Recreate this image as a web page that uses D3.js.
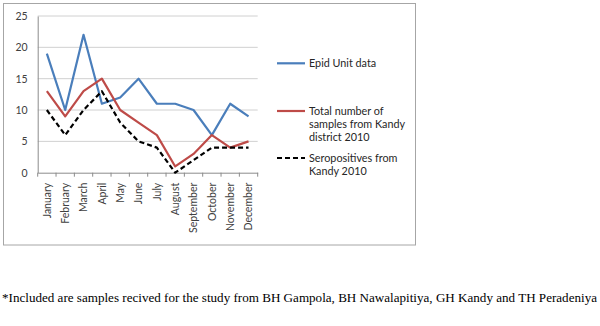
<!DOCTYPE html>
<html>
<head>
<meta charset="utf-8">
<script src="https://cdn.jsdelivr.net/npm/d3@7"></script>
<style>
  body { margin: 0; background: #fff; }
</style>
</head>
<body>
<div id="container"></div>
<script>
/**
 * DATA
 * */
const months = ["January", "February", "March", "April", "May", "June", "July",
  "August", "September", "October", "November", "December"];
const epidUnit = [19, 10, 22, 11, 12, 15, 11, 11, 10, 6, 11, 9];
const totalSamples = [13, 9, 13, 15, 10, 8, 6, 1, 3, 6, 4, 5];
const seropositives = [10, 6, 10, 13, 8, 5, 4, 0, 2, 4, 4, 4];
const yTicks = [0, 5, 10, 15, 20, 25];

const series = [
  { name: ["Epid Unit data"], values: epidUnit, color: "#4a7ebb", dash: null },
  { name: ["Total number of", "samples from Kandy", "district 2010"], values: totalSamples, color: "#be4b48", dash: null },
  { name: ["Seropositives from", "Kandy 2010"], values: seropositives, color: "#000", dash: "5,3" }
];

const width = 600, height = 326;
const plot = { left: 37.7, right: 257.7, top: 16, bottom: 172.7 };

const svg = d3.select("#container").append("svg")
  .attr("width", width)
  .attr("height", height);

// chart frame
svg.append("rect")
  .attr("x", 3.5).attr("y", 3.5)
  .attr("width", 412).attr("height", 241.5)
  .attr("fill", "none")
  .attr("stroke", "#a6a6a6");

const x = d3.scaleBand().domain(months).range([plot.left, plot.right]);
const y = d3.scaleLinear().domain([0, 25]).range([plot.bottom, plot.top]);

// gridlines
svg.append("g")
  .selectAll("line")
  .data(yTicks.slice(1))
  .join("line")
  .attr("x1", plot.left).attr("x2", plot.right)
  .attr("y1", d => y(d)).attr("y2", d => y(d))
  .attr("stroke", "#d0d0d0");

// y axis
const yAxis = svg.append("g")
  .attr("transform", `translate(${plot.left},0)`)
  .call(d3.axisLeft(y).tickValues(yTicks).tickSize(0).tickPadding(10));
yAxis.select(".domain").attr("stroke", "#8c8c8c");
yAxis.selectAll("text")
  .attr("font-family", "Lato, 'Open Sans', sans-serif")
  .attr("font-size", 10.5)
  .attr("fill", "#404040");

// x axis
const xAxis = svg.append("g")
  .attr("transform", `translate(0,${plot.bottom})`)
  .call(d3.axisBottom(x).tickSize(0));
xAxis.select(".domain").attr("stroke", "#8c8c8c");
xAxis.selectAll(".tick line").remove();
xAxis.selectAll("text")
  .attr("font-family", "Lato, 'Open Sans', sans-serif")
  .attr("font-size", 10.5)
  .attr("fill", "#404040")
  .attr("transform", "rotate(-90)")
  .attr("text-anchor", "end")
  .attr("y", 0)
  .attr("x", -10)
  .attr("dy", "0.35em");

// category boundary ticks
svg.append("g")
  .selectAll("line")
  .data(d3.range(months.length + 1))
  .join("line")
  .attr("x1", i => plot.left + i * x.step())
  .attr("x2", i => plot.left + i * x.step())
  .attr("y1", plot.bottom).attr("y2", plot.bottom + 4)
  .attr("stroke", "#8c8c8c");

// lines
const line = d3.line()
  .x((d, i) => x(months[i]) + x.bandwidth() / 2)
  .y(d => y(d));

svg.append("g")
  .selectAll("path")
  .data(series)
  .join("path")
  .attr("d", d => line(d.values))
  .attr("fill", "none")
  .attr("stroke", d => d.color)
  .attr("stroke-width", 2.2)
  .attr("stroke-dasharray", d => d.dash)
  .attr("stroke-linejoin", "round");

// legend
const legendY = [63.3, 111, 158];
const legend = svg.append("g")
  .selectAll("g")
  .data(series)
  .join("g")
  .attr("transform", (d, i) => `translate(277,${legendY[i]})`);

legend.append("line")
  .attr("x1", 0).attr("x2", 28)
  .attr("stroke", d => d.color)
  .attr("stroke-width", 2.2)
  .attr("stroke-dasharray", d => d.dash);

legend.append("text")
  .attr("font-family", "Lato, 'Open Sans', sans-serif")
  .attr("font-size", 10.8)
  .attr("fill", "#262626")
  .selectAll("tspan")
  .data(d => d.name)
  .join("tspan")
  .attr("x", 32)
  .attr("y", (d, i) => i * 13.3)
  .attr("dy", "0.35em")
  .text(d => d);

// footnote
svg.append("text")
  .attr("x", 2)
  .attr("y", 302)
  .attr("font-family", "'Liberation Serif', 'Times New Roman', serif")
  .attr("font-size", 12.5)
  .attr("fill", "#000")
  .attr("textLength", 595)
  .attr("lengthAdjust", "spacingAndGlyphs")
  .text("*Included are samples recived for the study from BH Gampola, BH Nawalapitiya, GH Kandy and TH Peradeniya");
</script>
</body>
</html>
